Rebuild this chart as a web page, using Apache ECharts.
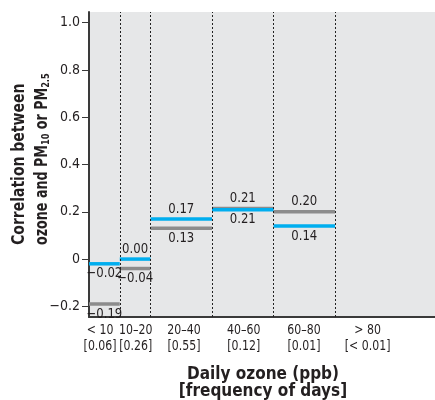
<!DOCTYPE html>
<html>
<head>
<meta charset="utf-8">
<script src="https://cdn.jsdelivr.net/npm/echarts@6/dist/echarts.min.js"></script>
<style>
html,body{margin:0;padding:0;background:#fff;}
#chart{width:435px;height:400px;}
</style>
</head>
<body>
<div id="chart"></div>
<script>
// ---- data ----
var binEdges = [0, 10, 20, 40, 60, 80, 112.5];
var binLabels = ['< 10', '10\u201320', '20\u201340', '40\u201360', '60\u201380', '> 80'];
var binFrequency = ['[0.06]', '[0.26]', '[0.55]', '[0.12]', '[0.01]', '[< 0.01]'];
var binLabelCenters = [3.6, 15.2, 30.9, 50.3, 69.9, 90.6];
var cyanValues = [-0.02, 0.00, 0.17, 0.209, 0.14, null];
var grayValues = [-0.19, -0.04, 0.13, 0.214, 0.20, null];
var yTicks = [-0.2, 0, 0.2, 0.4, 0.6, 0.8, 1.0];
var Y_MIN = -0.245, Y_MAX = 1.045;

// ---- style config ----
var FONT = "'Liberation Sans Narrow', 'DejaVu Sans Condensed', sans-serif";
var TEXT = '#231f20';
var cyanLabelSide = ['below', 'above', 'above', 'below', 'below', null];
var grayLabelSide = ['below', 'below', 'below', 'above', 'above', null];

function fmt(v) {
  var s = Math.abs(v).toFixed(2);
  return (v < 0 ? '\u2212' : '') + s;
}

function buildData(values) {
  var out = [];
  for (var i = 0; i < values.length; i++) {
    if (values[i] === null) continue;
    out.push([binEdges[i], binEdges[i + 1], values[i], i]);
  }
  return out;
}

function makeRender(color, sides) {
  return function (params, api) {
    var x0 = api.value(0), x1 = api.value(1), v = api.value(2), idx = api.value(3);
    var p0 = api.coord([x0, v]);
    var p1 = api.coord([x1, v]);
    var above = sides[idx] === 'above';
    return {
      type: 'group',
      children: [
        { type: 'line', shape: { x1: p0[0], y1: p0[1], x2: p1[0], y2: p1[1] },
          style: { stroke: color, lineWidth: 3.5 } },
        { type: 'text', x: (p0[0] + p1[0]) / 2, y: p0[1] + (above ? -10 : 10), scaleX: 0.93,
          style: { text: fmt(v), x: 0, y: 0,
            align: 'center', verticalAlign: 'middle',
            font: '14px ' + FONT, fill: TEXT } }
      ]
    };
  };
}

var chart = echarts.init(document.getElementById('chart'), null, { renderer: 'canvas' });
chart.setOption({
  animation: false,
  grid: { left: 89, top: 12, right: 0, bottom: 83, show: true,
          backgroundColor: '#e6e7e8', borderWidth: 0 },
  xAxis: {
    type: 'value', min: 0, max: 112.5,
    axisLine: { show: true, onZero: false, lineStyle: { color: '#3a3a3a', width: 2 } },
    axisTick: { show: false },
    splitLine: { show: false },
    axisLabel: { show: false }
  },
  yAxis: {
    type: 'value', min: Y_MIN, max: Y_MAX,
    axisLine: { show: true, onZero: false, lineStyle: { color: '#3a3a3a', width: 2 } },
    axisTick: { show: true, inside: false, customValues: yTicks, length: 7, lineStyle: { color: '#3a3a3a', width: 1 } },
    splitLine: { show: false },
    axisLabel: {
      customValues: yTicks, inside: false,
      showMinLabel: true, showMaxLabel: true,
      formatter: function (v) {
        if (Math.abs(v) < 1e-9) return '0';
        return (v < 0 ? '\u2212' : '') + Math.abs(v).toFixed(1);
      },
      color: TEXT, fontFamily: FONT, fontSize: 14, margin: 9
    }
  },
  graphic: [
    { type: 'text', x: 19.5, y: 245, rotation: Math.PI / 2, scaleX: 0.915,
      style: { text: 'Correlation between', align: 'left', verticalAlign: 'middle',
               font: 'bold 17px ' + FONT, fill: TEXT } },
    { type: 'text', x: 43, y: 245, rotation: Math.PI / 2, scaleX: 0.83,
      style: { text: '{b|ozone and PM}{s|10}{b| or PM}{s|2.5}', align: 'left', verticalAlign: 'middle',
               rich: {
                 b: { font: 'bold 17px ' + FONT, fill: TEXT, verticalAlign: 'bottom' },
                 s: { font: 'bold 11px ' + FONT, fill: TEXT, verticalAlign: 'bottom', padding: [6, 0, 0, 0] }
               } } },
    { type: 'text', x: 263, y: 375,
      style: { text: 'Daily ozone (ppb)', align: 'center', verticalAlign: 'middle',
               font: 'bold 17px ' + FONT, fill: TEXT } },
    { type: 'text', x: 263, y: 392,
      style: { text: '[frequency of days]', align: 'center', verticalAlign: 'middle',
               font: 'bold 17px ' + FONT, fill: TEXT } }
  ],
  series: [
    {
      type: 'custom', name: 'gray', z: 3,
      data: buildData(grayValues),
      renderItem: makeRender('#8c8c8c', grayLabelSide),
      encode: { x: [0, 1], y: 2 },
      markLine: {
        silent: true, symbol: 'none', label: { show: false },
        lineStyle: { color: '#222', type: [2, 2], width: 1 },
        data: binEdges.slice(1, 6).map(function (e) { return { xAxis: e }; })
      }
    },
    {
      type: 'custom', name: 'cyan', z: 4,
      data: buildData(cyanValues),
      renderItem: makeRender('#00aeef', cyanLabelSide),
      encode: { x: [0, 1], y: 2 }
    },
    {
      type: 'custom', name: 'xlabels', z: 5, clip: false, silent: true,
      data: binLabelCenters.map(function (c, i) { return [c, Y_MIN, i]; }),
      encode: { x: 0, y: 1 },
      renderItem: function (params, api) {
        var p = api.coord([api.value(0), api.value(1)]);
        var i = api.value(2);
        return {
          type: 'group',
          children: [
            { type: 'text', x: p[0], y: p[1] + 13, scaleX: 0.87,
              style: { text: binLabels[i], x: 0, y: 0,
                align: 'center', verticalAlign: 'middle', font: '14px ' + FONT, fill: TEXT } },
            { type: 'text', x: p[0], y: p[1] + 29, scaleX: 0.87,
              style: { text: binFrequency[i], x: 0, y: 0,
                align: 'center', verticalAlign: 'middle', font: '14px ' + FONT, fill: TEXT } }
          ]
        };
      }
    }
  ]
});
</script>
</body>
</html>
